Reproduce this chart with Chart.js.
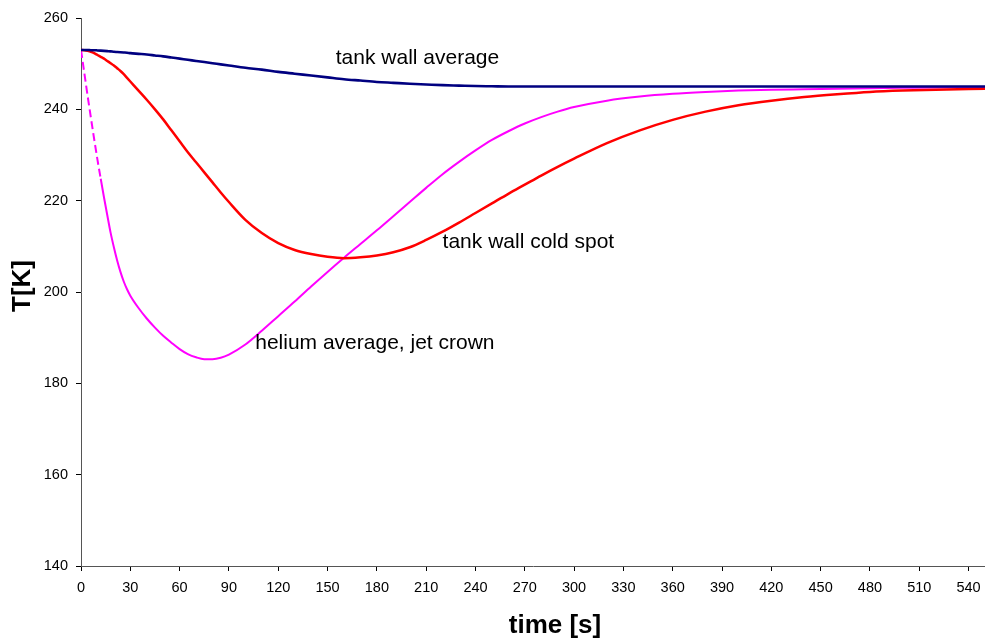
<!DOCTYPE html>
<html>
<head>
<meta charset="utf-8">
<title>Tank wall and helium temperatures</title>
<script src="https://cdn.jsdelivr.net/npm/chart.js@4/dist/chart.umd.min.js"></script>
<style>
  html, body { margin: 0; padding: 0; background: #fff; }
  #wrap { width: 985px; height: 638px; }
</style>
</head>
<body>
<div id="wrap"><canvas id="c" width="985" height="638"></canvas></div>
<script>
// time [s]
const time = [0, 2, 4, 6, 8, 10, 12, 14, 16, 18, 20, 22, 24, 26, 28, 30, 35, 40, 45, 50, 55, 60, 65,
  70, 75, 80, 85, 90, 100, 110, 120, 130, 140, 150, 160, 170, 180, 190, 200, 210, 220, 230, 240, 250,
  260, 270, 280, 290, 300, 320, 340, 360, 380, 400, 420, 440, 460, 480, 500, 520, 550];

// tank wall average [K]
const wallAverage = [253.0, 253.0, 253.0, 252.95, 252.95, 252.9, 252.85, 252.8, 252.75, 252.7,
  252.6, 252.55, 252.5, 252.45, 252.4, 252.3, 252.15, 252.0, 251.8, 251.6, 251.35, 251.1, 250.85,
  250.6, 250.35, 250.1, 249.85, 249.6, 249.1, 248.7, 248.2, 247.8, 247.4, 247.0, 246.6, 246.3, 246.0,
  245.8, 245.6, 245.45, 245.3, 245.2, 245.1, 245.05, 245.0, 245.0, 245.0, 245.0, 245.0, 245.0, 245.0,
  245.0, 245.0, 245.0, 245.0, 245.0, 245.0, 245.0, 245.0, 245.0, 245.0];

// tank wall cold spot [K]
const wallColdSpot = [253.0, 252.95, 252.8, 252.6, 252.3, 251.9, 251.5, 251.1, 250.6, 250.1,
  249.6, 249.0, 248.4, 247.7, 246.9, 246.1, 244.1, 242.1, 240.0, 237.8, 235.4, 233.0, 230.6,
  228.4, 226.2, 224.0, 221.8, 219.7, 215.8, 212.9, 210.7, 209.2, 208.3, 207.7, 207.4, 207.6, 208.0,
  208.7, 209.8, 211.4, 213.2, 215.2, 217.3, 219.4, 221.5, 223.5, 225.5, 227.4, 229.2, 232.6, 235.4,
  237.7, 239.5, 240.9, 241.9, 242.7, 243.3, 243.8, 244.1, 244.3, 244.5];

// helium average at the jet crown [K]
const heliumJetCrown = [253.0, 248.0, 243.0, 238.2, 233.5, 229.0, 224.8, 220.7, 216.8, 213.0,
  209.8, 206.9, 204.4, 202.3, 200.6, 199.2, 196.5, 194.2, 192.2, 190.4, 188.9, 187.5, 186.4,
  185.7, 185.3, 185.3, 185.6, 186.3, 188.5, 191.5, 194.7, 197.9, 201.2, 204.4, 207.5, 210.5, 213.5,
  216.6, 219.7, 222.8, 225.8, 228.5, 231.0, 233.3, 235.2, 236.9, 238.3, 239.5, 240.5, 241.9, 242.8,
  243.4, 243.8, 244.1, 244.3, 244.4, 244.5, 244.6, 244.7, 244.8, 244.9];

const xTicks = [0, 30, 60, 90, 120, 150, 180, 210, 240, 270, 300, 330, 360, 390, 420, 450, 480, 510, 540];
const yTicks = [140, 160, 180, 200, 220, 240, 260];

// curve labels: text, anchor time [s], anchor temperature [K]
const curveLabels = [
  { text: 'tank wall average', t: 155, T: 251.2 },
  { text: 'tank wall cold spot', t: 220, T: 211.0 },
  { text: 'helium average, jet crown', t: 106, T: 188.8 }
];

// the helium curve is drawn dashed up to this time [s]
const heliumDashedUntil = 12;

const FONT = '"Liberation Sans", Arial, Helvetica, sans-serif';
const pts = (ys) => time.map((t, i) => ({ x: t, y: ys[i] }));

const textPlugin = {
  id: 'chartTexts',
  afterDatasetsDraw(chart) {
    const { ctx, scales: { x, y }, chartArea } = chart;
    ctx.save();
    ctx.fillStyle = '#000';
    ctx.font = '21px ' + FONT;
    ctx.textAlign = 'left';
    ctx.textBaseline = 'middle';
    curveLabels.forEach(l => ctx.fillText(l.text, x.getPixelForValue(l.t), y.getPixelForValue(l.T)));
    // axis titles
    ctx.font = 'bold 26px ' + FONT;
    ctx.textAlign = 'center';
    ctx.fillText('time [s]', (chartArea.left + chartArea.right) / 2 + 22, chart.height - 12);
    ctx.translate(23, (chartArea.top + chartArea.bottom) / 2 - 6);
    ctx.rotate(-Math.PI / 2);
    ctx.fillText('T[K]', 0, 0);
    ctx.restore();
  }
};

new Chart(document.getElementById('c'), {
  type: 'line',
  data: {
    datasets: [
      {
        label: 'tank wall average',
        data: pts(wallAverage),
        borderColor: '#000080',
        borderWidth: 2.6
      },
      {
        label: 'tank wall cold spot',
        data: pts(wallColdSpot),
        borderColor: '#ff0000',
        borderWidth: 2.5
      },
      {
        label: 'helium average, jet crown',
        data: pts(heliumJetCrown),
        borderColor: '#ff00ff',
        borderWidth: 2,
        segment: {
          borderDash: ctx => (ctx.p1.parsed.x <= heliumDashedUntil ? [8, 4] : undefined)
        }
      }
    ]
  },
  options: {
    responsive: false,
    animation: false,
    events: [],
    layout: { padding: { top: 18, right: 0, bottom: 0, left: 0 } },
    elements: {
      point: { radius: 0 },
      line: { cubicInterpolationMode: 'monotone', fill: false }
    },
    plugins: {
      legend: { display: false },
      tooltip: { enabled: false }
    },
    scales: {
      x: {
        type: 'linear',
        min: 0,
        max: 550,
        afterBuildTicks: s => { s.ticks = xTicks.map(v => ({ value: v })); },
        afterFit: s => { s.height = 72; s.paddingRight = 0; s.paddingLeft = 0; },
        grid: { drawOnChartArea: false, drawTicks: true, tickLength: 5, tickColor: '#000' },
        border: { display: true, color: '#555', width: 1 },
        ticks: { color: '#000', font: { family: FONT, size: 14.5 }, padding: 8, maxRotation: 0, autoSkip: false }
      },
      y: {
        type: 'linear',
        min: 140,
        max: 260,
        afterBuildTicks: s => { s.ticks = yTicks.map(v => ({ value: v })); },
        afterFit: s => { s.width = 81; },
        grid: { drawOnChartArea: false, drawTicks: true, tickLength: 5, tickColor: '#000' },
        border: { display: true, color: '#555', width: 1 },
        ticks: { color: '#000', font: { family: FONT, size: 14.5 }, padding: 8 }
      }
    }
  },
  plugins: [textPlugin]
});
</script>
</body>
</html>
